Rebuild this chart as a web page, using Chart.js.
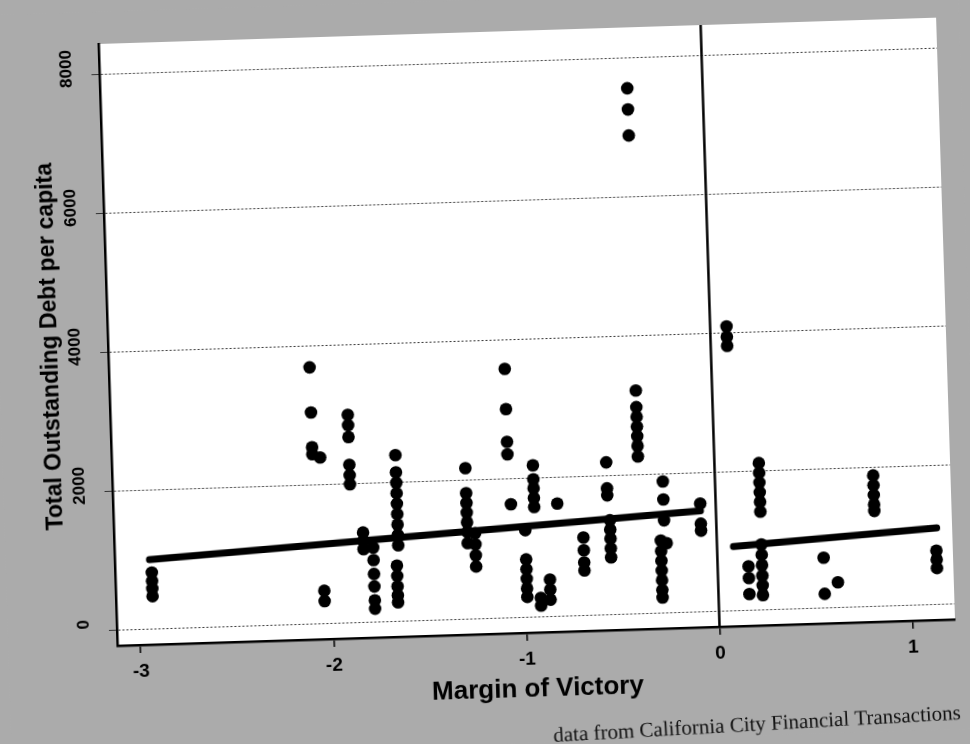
<!DOCTYPE html>
<html>
<head>
<meta charset="utf-8">
<script src="https://cdn.jsdelivr.net/npm/chart.js@4.4.1/dist/chart.umd.min.js"></script>
<style>
  html, body { margin: 0; padding: 0; background: #ababab; overflow: hidden; }
  #wrap { width: 970px; height: 744px; transform: rotate(-1.8deg); transform-origin: 485px 372px; }
  canvas { display: block; }
</style>
</head>
<body>
<div id="wrap"><canvas id="chart" width="970" height="744"></canvas></div>
<script>
// margin of victory for each city column, and the debt values stacked in it
const clusterMargin = [-2.93, -2.08, -2.04, -1.89, -1.83, -1.78, -1.65, -1.66, -1.29, -1.25,
  -1.07, -1.06, -0.99, -0.94, -0.92, -0.87, -0.82, -0.69, -0.56, -0.55,
  -0.395, -0.39, -0.29, -0.27, -0.26, -0.08, 0.085, 0.23, 0.16, 0.55,
  0.62, 0.82, 1.135];
const clusterDebt = [
  [820, 700, 590, 480],
  [3700, 3050, 2550, 2450],
  [2400, 480, 330],
  [3000, 2850, 2680, 2280, 2130, 2000],
  [1300, 1180, 1060],
  [1080, 900, 700, 520, 320, 200],
  [2400, 2150, 2000, 1850, 1700, 1550, 1400, 1250, 1100],
  [810, 660, 510, 380, 280],
  [2180, 1820, 1680, 1540, 1400, 1260, 1100],
  [1240, 1080, 920, 760],
  [3590, 3010, 2540, 2360],
  [1640],
  [1260, 840, 700, 560, 420, 300],
  [2190, 1990, 1860, 1720, 1590],
  [280, 170],
  [540, 395, 250],
  [1630],
  [1130, 945, 770, 655],
  [2200, 1825, 1725],
  [1365, 1230, 1100, 960, 830],
  [3220, 2980, 2840, 2700, 2560, 2420, 2270],
  [7570, 7265, 6890],
  [1050, 900, 760, 620, 480, 340, 230],
  [1900, 1640, 1340],
  [1010],
  [1565, 1275, 1175],
  [4100, 3950, 3820],
  [2120, 1980, 1840, 1700, 1560, 1420, 950, 800, 650, 500, 360, 220],
  [640, 470, 240],
  [730, 210],
  [370],
  [1890, 1750, 1610, 1470, 1380],
  [780, 650, 530]
];

// fitted lines on each side of the cutoff
const leftFitX = [-2.94, -0.08];
const leftFitY = [1006, 1460];
const rightFitX = [0.085, 1.14];
const rightFitY = [930, 1107];
const cutoffX = 0;

const xTicks = [-3, -2, -1, 0, 1];
const yTicks = [0, 2000, 4000, 6000, 8000];
const xMin = -3.12, xMax = 1.22;
const yMin = -216, yMax = 8446;

const captionText = 'data from California City Financial Transactions';
const family = '"Liberation Sans", Arial, sans-serif';

const points = [];
clusterMargin.forEach((m, i) => {
    clusterDebt[i].forEach(d => points.push({ x: m, y: d }));
});
const toXY = (xs, ys) => xs.map((x, i) => ({ x: x, y: ys[i] }));

const paper = {
    id: 'paper',
    beforeDraw(chart) {
        const { ctx, chartArea: a } = chart;
        ctx.save();
        ctx.fillStyle = '#ababab';
        ctx.fillRect(0, 0, chart.width, chart.height);
        ctx.fillStyle = '#ffffff';
        ctx.fillRect(a.left, a.top, a.right - a.left, a.bottom - a.top);
        ctx.restore();
    },
    afterDraw(chart) {
        const ctx = chart.ctx;
        ctx.save();
        ctx.translate(950, 734);
        ctx.rotate(-1.4 * Math.PI / 180);
        ctx.font = '21px "Liberation Serif", "Times New Roman", serif';
        ctx.textAlign = 'right';
        ctx.fillStyle = '#111';
        ctx.fillText(captionText, 0, 0);
        ctx.restore();
    }
};

new Chart(document.getElementById('chart'), {
    type: 'scatter',
    data: {
        datasets: [
            {
                data: points,
                backgroundColor: '#000',
                borderWidth: 0,
                pointRadius: 6.3,
                pointHoverRadius: 6.3
            },
            {
                data: toXY(leftFitX, leftFitY),
                showLine: true,
                borderColor: '#000',
                borderWidth: 7,
                borderCapStyle: 'round',
                pointRadius: 0
            },
            {
                data: toXY(rightFitX, rightFitY),
                showLine: true,
                borderColor: '#000',
                borderWidth: 7,
                borderCapStyle: 'round',
                pointRadius: 0
            },
            {
                data: toXY([cutoffX, cutoffX], [yMin, yMax]),
                showLine: true,
                borderColor: '#000',
                borderWidth: 2.5,
                pointRadius: 0
            }
        ]
    },
    options: {
        responsive: false,
        animation: false,
        devicePixelRatio: 1,
        layout: { padding: { left: 0, top: 32, right: 23, bottom: 0 } },
        plugins: { legend: { display: false }, tooltip: { enabled: false } },
        scales: {
            x: {
                type: 'linear',
                min: xMin,
                max: xMax,
                afterBuildTicks: s => { s.ticks = xTicks.map(v => ({ value: v })); },
                afterFit: s => { s.height = 110; },
                grid: { drawOnChartArea: false, tickLength: 8, color: '#000', lineWidth: 1.5 },
                border: { color: '#000', width: 2.5 },
                ticks: {
                    color: '#000',
                    padding: 7,
                    maxRotation: 0,
                    font: { family: family, size: 19, weight: 'bold' },
                    callback: v => String(v)
                },
                title: {
                    display: true,
                    text: 'Margin of Victory',
                    color: '#000',
                    font: { family: family, size: 26, weight: 'bold' },
                    padding: { top: 0, bottom: 38 }
                }
            },
            y: {
                type: 'linear',
                min: yMin,
                max: yMax,
                afterBuildTicks: s => { s.ticks = yTicks.map(v => ({ value: v })); },
                afterFit: s => { s.width = 109; },
                grid: { color: '#333', lineWidth: 1, tickLength: 8 },
                border: { color: '#000', width: 2.5, dash: [2, 2] },
                ticks: {
                    color: '#000',
                    padding: 6,
                    minRotation: 90,
                    maxRotation: 90,
                    crossAlign: 'center',
                    labelOffset: -7,
                    font: { family: family, size: 17, weight: 'bold' },
                    callback: v => String(v)
                },
                title: {
                    display: true,
                    text: 'Total Outstanding Debt per capita',
                    color: '#000',
                    font: { family: family, size: 23, weight: 'bold' },
                    padding: { top: 38, bottom: 0 }
                }
            }
        }
    },
    plugins: [paper]
});
</script>
</body>
</html>
